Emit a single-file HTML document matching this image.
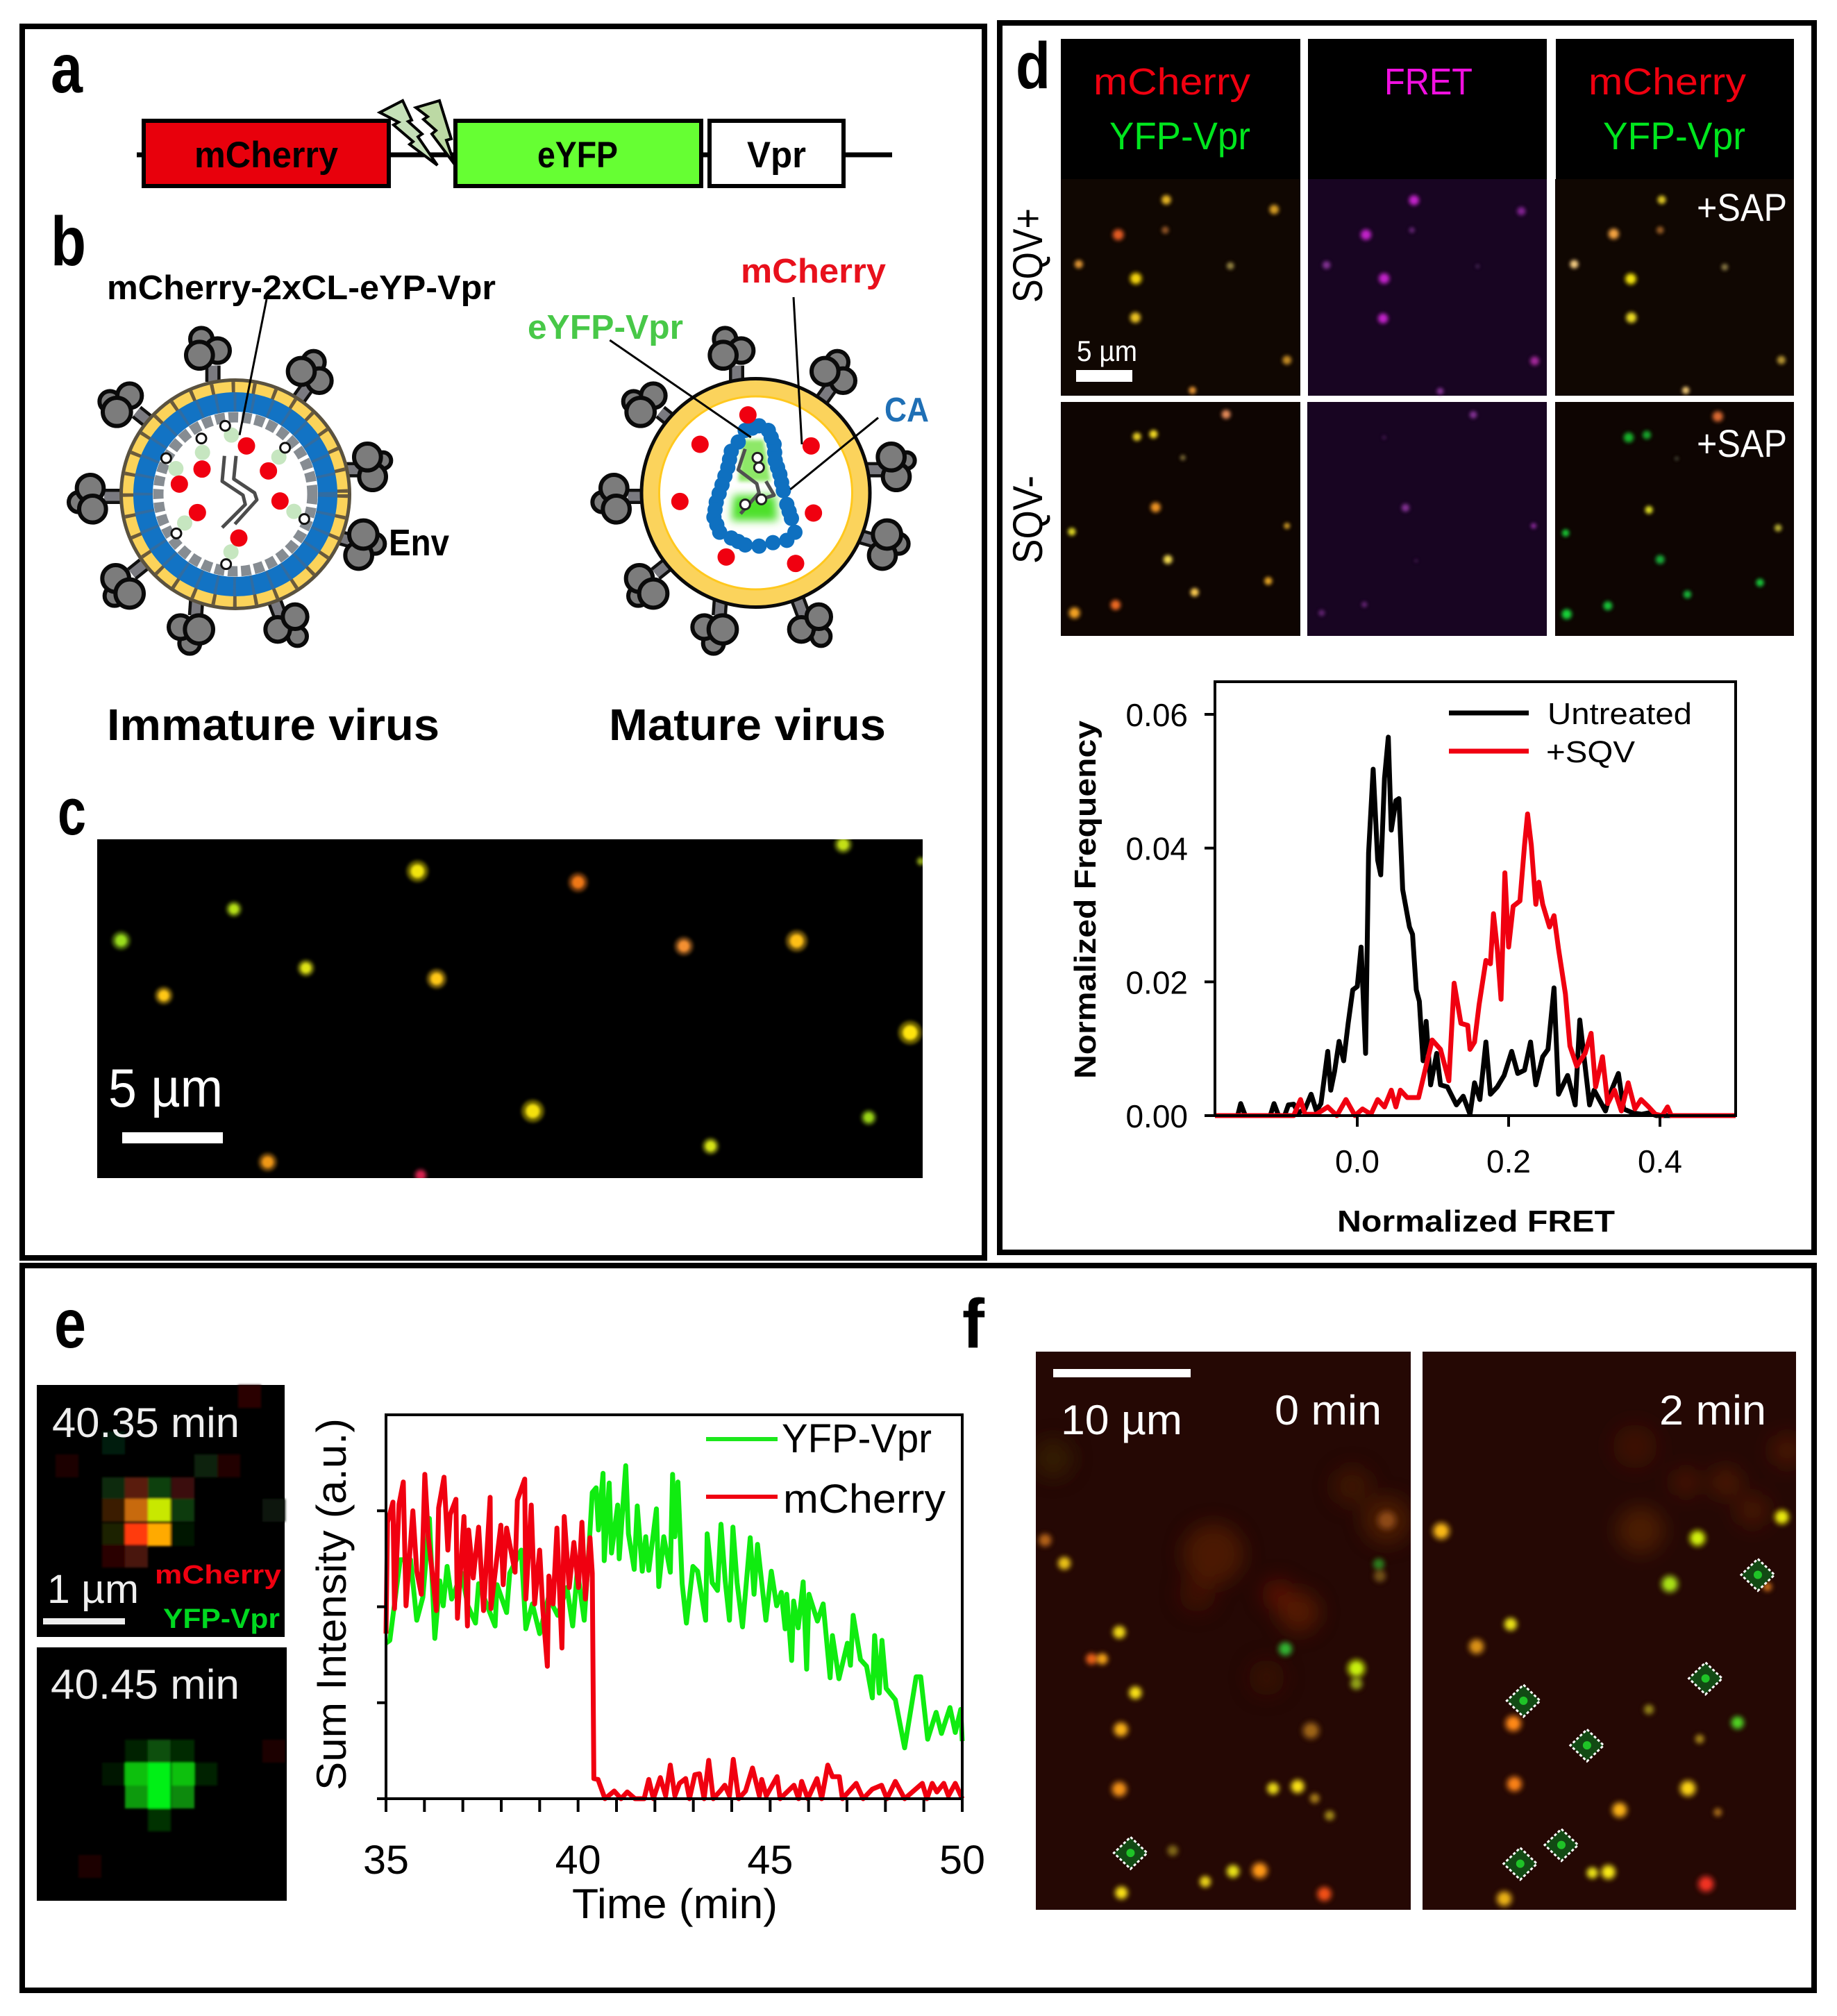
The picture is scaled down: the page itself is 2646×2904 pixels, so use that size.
<!DOCTYPE html>
<html lang="en">
<head>
<meta charset="utf-8">
<title>mCherry-2xCL-eYFP-Vpr FRET figure</title>
<style>
html,body{margin:0;padding:0;background:#fff;}
svg{display:block;}
text{font-family:"Liberation Sans",sans-serif;}
.b{font-weight:bold;}
</style>
</head>
<body>
<svg id="figure" xmlns="http://www.w3.org/2000/svg" width="2646" height="2904" viewBox="0 0 2646 2904">
<defs>
<filter id="blur1" x="-10%" y="-10%" width="120%" height="120%"><feGaussianBlur stdDeviation="1.5"/></filter>
<filter id="blur2" x="-20%" y="-20%" width="140%" height="140%"><feGaussianBlur stdDeviation="2"/></filter>
<filter id="blur3" x="-20%" y="-20%" width="140%" height="140%"><feGaussianBlur stdDeviation="3"/></filter>
<filter id="blur6" x="-40%" y="-40%" width="180%" height="180%"><feGaussianBlur stdDeviation="6"/></filter>
<filter id="blur14" x="-30%" y="-30%" width="160%" height="160%"><feGaussianBlur stdDeviation="14"/></filter>
<clipPath id="clip-c"><rect x="140" y="1209" width="1189" height="488"/></clipPath>
<clipPath id="clip-d"><rect x="1528" y="258" width="1056" height="658"/></clipPath>
<clipPath id="clip-f1"><rect x="1492" y="1947" width="540" height="804"/></clipPath>
<clipPath id="clip-f2"><rect x="2049" y="1947" width="538" height="804"/></clipPath>
</defs>
<rect width="2646" height="2904" fill="#fff"/>

<rect x="32" y="38" width="1386" height="1774" fill="none" stroke="#000" stroke-width="8"/>
<rect x="1440" y="33" width="1173" height="1771" fill="none" stroke="#000" stroke-width="8"/>
<rect x="32" y="1823" width="2581" height="1044" fill="none" stroke="#000" stroke-width="8"/>

<text class="b" x="73" y="133" font-size="100" textLength="46" lengthAdjust="spacingAndGlyphs">a</text>
<text class="b" x="73" y="382" font-size="100" textLength="51" lengthAdjust="spacingAndGlyphs">b</text>
<text class="b" x="83" y="1202" font-size="96" textLength="41" lengthAdjust="spacingAndGlyphs">c</text>
<text class="b" x="1463" y="127" font-size="95" textLength="50" lengthAdjust="spacingAndGlyphs">d</text>
<text class="b" x="78" y="1941" font-size="100" textLength="46" lengthAdjust="spacingAndGlyphs">e</text>
<text class="b" x="1386" y="1941" font-size="100" textLength="32" lengthAdjust="spacingAndGlyphs">f</text>

<g>
<line x1="197" y1="223" x2="1285" y2="223" stroke="#000" stroke-width="7"/>
<rect x="207" y="174" width="353" height="94" fill="#e8000c" stroke="#000" stroke-width="6"/>
<rect x="656" y="174" width="354" height="94" fill="#66ff33" stroke="#000" stroke-width="6"/>
<rect x="1022" y="174" width="193" height="94" fill="#fff" stroke="#000" stroke-width="6"/>
<polygon points="547,162 580,145 593,173 588,175 608,193 602,197 630,238 590,208 595,204 567,180 574,176" fill="#c5e0b8" stroke="#000" stroke-width="4"/>
<polygon points="599,155 633,145 650,200 643,202 655,237 622,193 628,188 610,172 616,168" fill="#bcd9a4" stroke="#000" stroke-width="4"/>
<text class="b" x="280" y="241" font-size="53" textLength="207" lengthAdjust="spacingAndGlyphs">mCherry</text>
<text class="b" x="774" y="241" font-size="53" textLength="116" lengthAdjust="spacingAndGlyphs">eYFP</text>
<text class="b" x="1076" y="241" font-size="53" textLength="85" lengthAdjust="spacingAndGlyphs">Vpr</text>
</g>

<g id="immature-virus"></g>
<g id="mature-virus"></g>
<text class="b" x="154" y="431" font-size="49" textLength="560" lengthAdjust="spacingAndGlyphs">mCherry-2xCL-eYP-Vpr</text>
<text class="b" x="560" y="800" font-size="54" textLength="87" lengthAdjust="spacingAndGlyphs">Env</text>
<text class="b" x="1067" y="407" font-size="49" fill="#e8101c" textLength="209" lengthAdjust="spacingAndGlyphs">mCherry</text>
<text class="b" x="760" y="488" font-size="49" fill="#48c848" textLength="224" lengthAdjust="spacingAndGlyphs">eYFP-Vpr</text>
<text class="b" x="1274" y="607" font-size="49" fill="#1f6fb5" textLength="64" lengthAdjust="spacingAndGlyphs">CA</text>
<text class="b" x="154" y="1066" font-size="64" textLength="479" lengthAdjust="spacingAndGlyphs">Immature virus</text>
<text class="b" x="877" y="1066" font-size="64" textLength="399" lengthAdjust="spacingAndGlyphs">Mature virus</text>

<rect x="140" y="1209" width="1189" height="488" fill="#000"/>
<g clip-path="url(#clip-c)"><g id="spots-c" filter="url(#blur2)"></g></g>
<rect x="176" y="1631" width="145" height="16" fill="#fff"/>
<text x="156" y="1594" font-size="78" fill="#fff" textLength="165" lengthAdjust="spacingAndGlyphs">5 µm</text>

<g>
<rect x="1528" y="56" width="345" height="202" fill="#000"/>
<rect x="1884" y="56" width="344" height="202" fill="#000"/>
<rect x="2241" y="56" width="343" height="202" fill="#000"/>
<rect x="1528" y="258" width="345" height="312" fill="#100702"/>
<rect x="1884" y="258" width="344" height="312" fill="#180522"/>
<rect x="2240" y="258" width="344" height="312" fill="#100702"/>
<rect x="1528" y="579" width="345" height="337" fill="#0e0502"/>
<rect x="1883" y="579" width="345" height="337" fill="#180522"/>
<rect x="2240" y="579" width="344" height="337" fill="#0e0502"/>
</g>
<g clip-path="url(#clip-d)"><g id="spots-d" filter="url(#blur2)"></g></g>
<text x="1575" y="136" font-size="54" fill="#f00010" textLength="226" lengthAdjust="spacingAndGlyphs">mCherry</text>
<text x="1598" y="215" font-size="56" fill="#00e61e" textLength="203" lengthAdjust="spacingAndGlyphs">YFP-Vpr</text>
<text x="1994" y="136" font-size="54" fill="#f010e0" textLength="127" lengthAdjust="spacingAndGlyphs">FRET</text>
<text x="2288" y="136" font-size="54" fill="#f00010" textLength="227" lengthAdjust="spacingAndGlyphs">mCherry</text>
<text x="2309" y="215" font-size="56" fill="#00e61e" textLength="205" lengthAdjust="spacingAndGlyphs">YFP-Vpr</text>
<text x="2444" y="318" font-size="56" fill="#fff" textLength="130" lengthAdjust="spacingAndGlyphs">+SAP</text>
<text x="2444" y="658" font-size="56" fill="#fff" textLength="130" lengthAdjust="spacingAndGlyphs">+SAP</text>
<text transform="translate(1501,436) rotate(-90)" font-size="60" textLength="136" lengthAdjust="spacingAndGlyphs">SQV+</text>
<text transform="translate(1501,812) rotate(-90)" font-size="60" textLength="127" lengthAdjust="spacingAndGlyphs">SQV-</text>
<text x="1551" y="520" font-size="42" fill="#fff" textLength="87" lengthAdjust="spacingAndGlyphs">5 µm</text>
<rect x="1550" y="533" width="81" height="17" fill="#fff"/>

<g id="chart-d">
<g id="chart-d-series"></g>
<g id="chart-d-axes"></g>
<rect x="1750" y="982" width="750" height="625" fill="none" stroke="#000" stroke-width="4"/>
<text class="b" x="1926" y="1774" font-size="44" textLength="400" lengthAdjust="spacingAndGlyphs">Normalized FRET</text>
<text class="b" transform="translate(1578,1554) rotate(-90)" font-size="44" textLength="516" lengthAdjust="spacingAndGlyphs">Normalized Frequency</text>
<line x1="2087" y1="1027" x2="2202" y2="1027" stroke="#000" stroke-width="7"/>
<line x1="2087" y1="1082" x2="2202" y2="1082" stroke="#f00010" stroke-width="7"/>
<text x="2229" y="1043" font-size="44" textLength="208" lengthAdjust="spacingAndGlyphs">Untreated</text>
<text x="2227" y="1098" font-size="44" textLength="128" lengthAdjust="spacingAndGlyphs">+SQV</text>
</g>

<rect x="53" y="1995" width="357" height="363" fill="#000"/>
<rect x="53" y="2373" width="360" height="365" fill="#000"/>
<g id="pixels-e" filter="url(#blur1)"></g>
<text x="75" y="2070" font-size="60" fill="#eee" textLength="270" lengthAdjust="spacingAndGlyphs">40.35 min</text>
<text x="73" y="2447" font-size="60" fill="#eee" textLength="272" lengthAdjust="spacingAndGlyphs">40.45 min</text>
<text x="68" y="2309" font-size="58" fill="#eee" textLength="132" lengthAdjust="spacingAndGlyphs">1 µm</text>
<rect x="62" y="2331" width="118" height="9" fill="#eee"/>
<text class="b" x="223" y="2281" font-size="38" fill="#f00010" textLength="182" lengthAdjust="spacingAndGlyphs">mCherry</text>
<text class="b" x="235" y="2345" font-size="40" fill="#00d820" textLength="168" lengthAdjust="spacingAndGlyphs">YFP-Vpr</text>

<g id="chart-e">
<g id="chart-e-series"></g>
<g id="chart-e-axes"></g>
<rect x="556" y="2038" width="830" height="553" fill="none" stroke="#000" stroke-width="4"/>
<text x="824" y="2763" font-size="60" textLength="296" lengthAdjust="spacingAndGlyphs">Time (min)</text>
<text transform="translate(498,2579) rotate(-90)" font-size="60" textLength="536" lengthAdjust="spacingAndGlyphs">Sum Intensity (a.u.)</text>
<line x1="1017" y1="2073" x2="1120" y2="2073" stroke="#1ce81c" stroke-width="6"/>
<line x1="1017" y1="2156" x2="1120" y2="2156" stroke="#f00010" stroke-width="6"/>
<text x="1126" y="2092" font-size="58" textLength="216" lengthAdjust="spacingAndGlyphs">YFP-Vpr</text>
<text x="1128" y="2179" font-size="58" textLength="234" lengthAdjust="spacingAndGlyphs">mCherry</text>
</g>

<rect x="1492" y="1947" width="540" height="804" fill="#250804"/>
<rect x="2049" y="1947" width="538" height="804" fill="#250804"/>
<g clip-path="url(#clip-f1)"><g id="blotches-f1" filter="url(#blur14)"></g><g id="spots-f1" filter="url(#blur3)"></g></g>
<g clip-path="url(#clip-f2)"><g id="blotches-f2" filter="url(#blur14)"></g><g id="spots-f2" filter="url(#blur3)"></g></g>
<g id="diamonds-f"></g>
<rect x="1517" y="1972" width="198" height="12" fill="#fff"/>
<text x="1528" y="2066" font-size="60" fill="#fff" textLength="175" lengthAdjust="spacingAndGlyphs">10 µm</text>
<text x="1836" y="2052" font-size="60" fill="#fff" textLength="154" lengthAdjust="spacingAndGlyphs">0 min</text>
<text x="2390" y="2052" font-size="60" fill="#fff" textLength="154" lengthAdjust="spacingAndGlyphs">2 min</text>
</svg>

<script>
/* ---------- Chart d: normalized FRET histogram ---------- */
const untreatedFret = [-0.188,-0.158,-0.154,-0.148,-0.115,-0.110,-0.104,-0.096,-0.091,-0.084,-0.078,-0.069,-0.061,-0.054,-0.048,-0.039,-0.035,-0.030,-0.024,-0.018,-0.012,-0.006,0,0.005,0.011,0.015,0.021,0.027,0.031,0.036,0.041,0.045,0.051,0.055,0.060,0.069,0.073,0.078,0.082,0.087,0.091,0.097,0.105,0.110,0.119,0.131,0.140,0.149,0.155,0.162,0.170,0.176,0.185,0.194,0.204,0.212,0.221,0.229,0.236,0.245,0.252,0.260,0.266,0.278,0.288,0.294,0.307,0.313,0.328,0.336,0.345,0.352,0.364,0.376,0.385,0.395,0.5];
const untreatedFreq = [0,0,0.0018,0,0,0.0018,0,0,0.0016,0.0017,0.0004,0.001,0.0032,0.0007,0.0018,0.0096,0.0038,0.0066,0.0111,0.0082,0.0138,0.0188,0.0193,0.0252,0.0093,0.0393,0.0518,0.0382,0.036,0.0504,0.0566,0.0427,0.0471,0.0474,0.0338,0.0282,0.0271,0.0188,0.0171,0.0082,0.0141,0.0046,0.0093,0.0046,0.0043,0.0016,0.0029,0.0002,0.0049,0.0024,0.011,0.0032,0.0043,0.006,0.0096,0.0063,0.0068,0.011,0.0046,0.0088,0.0099,0.0191,0.0032,0.006,0.0016,0.0143,0.0016,0.0038,0.0007,0.0038,0.0063,0.001,0.0004,0.0002,0.0004,0,0];
const sqvFret = [-0.188,-0.084,-0.075,-0.069,-0.054,-0.039,-0.027,-0.015,-0.003,0.007,0.018,0.027,0.036,0.045,0.051,0.057,0.066,0.081,0.088,0.099,0.110,0.121,0.128,0.137,0.146,0.149,0.155,0.161,0.170,0.176,0.180,0.185,0.190,0.195,0.200,0.206,0.215,0.221,0.225,0.230,0.236,0.240,0.245,0.254,0.260,0.266,0.275,0.281,0.290,0.301,0.309,0.315,0.324,0.331,0.340,0.349,0.358,0.367,0.375,0.385,0.394,0.403,0.410,0.415,0.5];
const sqvFreq = [0,0,0.0024,0.0002,0.0002,0.0013,0,0.0024,0,0.001,0.0002,0.0024,0.0013,0.0038,0.0013,0.0038,0.0027,0.0027,0.006,0.0113,0.0099,0.0052,0.0198,0.0138,0.0135,0.0099,0.011,0.0166,0.0232,0.0227,0.0302,0.0249,0.0174,0.0363,0.0252,0.0313,0.0321,0.0404,0.0451,0.0404,0.0316,0.0349,0.0316,0.0282,0.0299,0.0249,0.0182,0.0104,0.0074,0.0093,0.0123,0.0043,0.0088,0.0018,0.0038,0.0007,0.0049,0.001,0.0024,0.0013,0.0002,0,0.0013,0,0];
const fretTickValues = [0.0,0.2,0.4];
const fretTickLabels = ["0.0","0.2","0.4"];
const freqTickValues = [0,0.02,0.04,0.06];
const freqTickLabels = ["0.00","0.02","0.04","0.06"];

/* ---------- Chart e: sum intensity vs time ---------- */
const yfpTime = [35.00,35.10,35.27,35.37,35.64,35.80,35.96,36.13,36.27,36.40,36.49,36.59,36.71,36.97,37.13,37.33,37.41,37.84,37.89,38.14,38.22,38.52,38.64,38.81,39.00,39.23,39.47,39.71,39.86,39.98,40.16,40.28,
40.37,40.47,40.53,40.65,40.68,40.81,40.87,41.03,41.07,41.24,
41.31,41.46,41.54,41.67,41.76,41.84,42.04,42.10,42.23,42.40,
42.46,42.52,42.60,42.71,42.82,42.99,43.11,43.32,43.36,43.49,
43.63,43.72,43.83,43.94,44.03,44.14,44.28,44.48,44.58,44.67,
44.89,45.03,45.17,45.29,45.39,45.43,45.56,45.61,45.73,45.86,
45.95,46.01,46.23,46.38,46.56,46.62,46.79,47.01,47.09,47.16,
47.35,47.51,47.66,47.72,47.84,47.91,48.02,48.26,48.50,48.80,
48.92,49.10,49.32,49.46,49.68,49.82,49.96,50.00];
const yfpIntensity = [1.62,1.65,2.18,2.49,2.49,1.86,2.10,2.92,1.67,2.27,2.01,2.42,2.08,2.35,2.01,1.83,2.24,1.80,2.23,1.94,2.35,2.59,1.77,2.03,1.72,2.10,1.91,2.20,1.80,2.38,1.86,2.59,
3.19,3.24,2.80,3.39,2.48,3.29,2.56,3.06,2.50,3.47,
2.76,2.39,3.05,2.37,2.73,2.38,3.02,2.21,2.73,2.36,
3.38,2.73,3.30,2.24,1.83,2.42,2.37,1.86,2.76,2.25,
2.17,2.86,2.27,1.86,2.83,2.25,1.79,2.72,2.13,2.65,
1.86,2.37,2.01,2.15,1.77,2.13,1.44,2.06,1.78,2.26,
1.35,2.13,1.85,2.03,1.26,1.70,1.25,1.62,1.39,1.91,
1.45,1.38,1.05,1.70,1.10,1.65,1.15,1.03,0.53,1.27,
1.27,0.62,0.90,0.68,0.95,0.69,0.93,0.60];
const mcherryTime = [35.00,35.04,35.18,35.22,35.34,35.45,35.52,35.70,35.80,35.92,
36.01,36.10,36.31,36.37,36.51,36.61,36.67,36.82,36.86,37.03,
37.12,37.15,37.27,37.41,37.54,37.71,37.73,37.84,37.99,38.05,
38.14,38.36,38.42,38.61,38.64,38.78,38.87,39.00,39.08,39.20,
39.24,39.35,39.45,39.58,39.64,39.77,39.89,40.01,40.10,40.19,
40.31,40.37,
40.41,40.52,40.70,40.94,41.12,41.28,41.48,41.72,41.84,41.96,42.14,42.28,42.40,42.52,42.64,42.80,42.90,43.04,43.16,43.28,43.40,43.52,43.70,43.82,43.94,44.04,44.18,44.36,44.54,44.72,44.78,44.90,45.18,45.26,45.62,45.74,45.82,45.98,46.22,46.34,46.50,46.62,46.80,46.88,47.24,47.42,47.66,47.90,48.04,48.26,48.50,48.96,49.08,49.22,49.34,49.52,49.64,49.82,50.00];
const mcherryIntensity = [1.72,2.88,3.09,1.98,3.07,3.30,2.01,3.00,2.37,2.13,
3.38,2.73,1.96,3.03,3.35,2.59,2.96,3.12,1.88,2.94,
1.80,2.80,2.30,2.83,1.96,3.14,1.98,2.35,2.85,2.23,
2.82,2.36,3.11,3.33,2.08,3.06,2.03,2.59,1.98,1.38,
2.32,2.03,2.82,1.57,2.94,2.20,2.67,2.20,2.88,2.08,
2.72,2.35,
0.21,0.20,0,0.08,0,0.07,0,0,0.20,0,0.22,0.03,0.35,0.03,0.16,0.21,0,0.25,0.26,0,0.40,0,0.08,0.14,0.03,0.41,0,0.08,0.32,0.03,0.20,0.03,0.23,0,0.14,0,0.18,0,0.21,0,0.35,0.23,0.23,0,0.16,0,0.10,0.14,0,0.18,0,0.16,0,0.16,0.07,0.16,0.03,0.16,0];
const timeTickValues = [35,36,37,38,39,40,41,42,43,44,45,46,47,48,49,50];
const timeTickLabelValues = [35,40,45,50];
const intensityTickValues = [0,1,2,3];

/* ---------- Micrograph spots, in image crop coordinates ---------- */
const Y="#f2e410",M="#c020c8";
const spotsC = [[655,270,Y,1.1],[907,298,"#f07818",1],[367,365,"#b6e012",.8],[190,444,"#9ade1a",.95],[480,513,"#e0e414",.85],[685,540,"#ffc818",1],[257,582,"#ffc818",.9],[1073,458,"#f49030",.95],[1250,445,"#ffc018",1.1],[1323,203,"#c4e014",.9],[1445,245,"#90a814",.5],[1428,675,"#ffe410",1.2],[836,872,"#f4e010",1.15],[1363,888,"#9ad418",.8],[1115,960,"#d6e414",.85],[420,1000,"#f09818",.95],[660,1033,"#d82050",.7]];
const spotsDMerge = [[312,475,"#e0b020",.9],[514,498,"#d09820",.9],[222,558,"#e05a20",1.05],[310,547,"#885020",.7],[148,628,"#d89030",.8],[432,632,"#908040",.7],[255,662,"#f0d010",1.1],[254,755,"#e8c020",1],[538,856,"#c08820",.85],[361,928,"#e09030",.7],[424,985,"#e08858",.85],[257,1038,"#e0c820",.8],[288,1032,"#f0d820",.8],[343,1088,"#706030",.55],[292,1206,"#e89020",.95],[135,1264,"#d8d020",.75],[538,1250,"#c09020",.6],[315,1330,"#f0d850",.85],[503,1381,"#e0a020",.75],[365,1408,"#f8c850",.8],[140,1457,"#f0a020",1.05],[217,1438,"#e86820",.95]];
const spotsDFret = [[776,476,M,.95],[977,502,"#802090",.8],[686,558,M,1],[772,547,"#602070",.55],[612,630,"#803090",.75],[895,633,"#402050",.4],[720,662,M,1],[718,757,M,.95],[1002,858,"#a02898",.85],[825,930,"#803090",.65],[887,986,"#803090",.7],[720,1040,"#3c1848",.4],[760,1207,"#803090",.75],[1000,1250,"#802890",.55],[780,1333,"#3c1848",.35],[683,1437,"#602070",.55],[603,1457,"#602070",.6]];
const spotsDSap = [[1240,475,"#d8c020",.8],[1150,556,"#f0a040",1],[1237,547,"#905820",.7],[1076,628,"#f0c880",.8],[1358,635,"#807040",.65],[1182,663,"#f0e010",1.05],[1183,755,"#e8d820",1],[1464,856,"#b09030",.8],[1285,928,"#e8c070",.7],[1345,990,"#d86830",1],[1178,1040,"#18b02a",.95],[1212,1034,"#18a02a",.8],[1268,1090,"#404030",.4],[1216,1212,"#d8d820",.75],[1458,1255,"#b0a830",.7],[1060,1267,"#18c030",.7],[1237,1330,"#18a838",.85],[1424,1385,"#18c038",.75],[1288,1413,"#18b038",.75],[1139,1440,"#18c038",.85],[1062,1460,"#18d038",.95]];
const spotsF1 = [[85,555,"#b06018",.9],[121,613,"#e8c018",.9],[224,786,"#f0d818",.9],[172,853,"#e86018",.8],[192,853,"#f0a018",.8],[254,938,"#f8e018",.9],[227,1030,"#f8b018",1],[224,1180,"#f09018",1.05],[583,1033,"#9c6418",1.15],[535,828,"#30b030",.95],[668,877,"#c8f010",1.2],[668,915,"#90a018",.85],[512,1178,"#e8d818",.85],[558,1173,"#f8e018",.95],[590,1203,"#a07818",.7],[618,1246,"#a08818",.7],[324,1334,"#806818",.75],[385,1412,"#e8d018",.8],[437,1386,"#e8e018",.9],[487,1384,"#ff9818",1.1],[228,1440,"#f8e018",.9],[608,1443,"#f05018",1],[725,505,"#8c4818",1.25],[710,615,"#2c7c1c",.8],[712,645,"#705018",.85]];
const spotsF2 = [[827,532,"#f8b818",1.15],[1307,550,"#d0f010",1.1],[1465,497,"#e8e810",1],[1255,665,"#a8e018",1.15],[957,766,"#e8e018",.9],[893,822,"#d89018",1.05],[962,1015,"#ff8818",1.1],[1216,980,"#908018",.7],[1382,1013,"#50d020",.9],[1311,1054,"#a08018",.65],[964,1167,"#f88018",1.05],[1289,1178,"#f8d018",1.1],[1161,1232,"#f8b018",1.05],[1345,1238,"#a06818",.6],[1110,1390,"#e8e018",.8],[1140,1388,"#f8e818",1],[1323,1418,"#f03020",1.1],[945,1455,"#e8b018",1.05],[1438,672,"#c06818",.65]];
const hazeF1 = [[400,590,44,"#7a2c08"],[560,735,30,"#8a2a08"],[520,690,22,"#8a1c08"],[660,420,28,"#5a2808"],[370,690,26,"#5c1c08"],[725,505,34,"#7a3808"],[100,350,28,"#443008"],[500,900,26,"#4c1a08"]];
const hazeF2 = [[1200,530,34,"#7a3408"],[1285,410,20,"#702408"],[1360,410,22,"#7a2c08"],[1410,480,24,"#6a2808"],[1475,330,24,"#702408"],[1190,320,32,"#581c08"]];
const diamondsF = [[245,1340],[1420,642],[1322,902],[981,958],[1100,1070],[1052,1320],[975,1367]];

/* ---------- Pixelated panel e cells: [x, y, colour] on a 33 px grid ---------- */
const cellsBefore = [[147,2128,"#0c2c0c"],[180,2128,"#5a1a08"],[213,2128,"#0c400c"],[247,2128,"#3a0c08"],[147,2159,"#3a1a04"],[180,2159,"#c86a10"],[213,2159,"#c8e800"],[247,2159,"#0a3a0a"],[147,2194,"#1e2404"],[180,2194,"#ff3a10"],[213,2194,"#ffaa00"],[247,2194,"#041404"],[147,2225,"#2a0404"],[180,2225,"#4a1808"],[343,1995,"#2a0404"],[80,2095,"#1c0406"],[280,2095,"#0a2408"],[313,2095,"#240406"],[147,2062,"#041a08"],[378,2159,"#081808"]];
const cellsAfter = [[180,2506,"#042004"],[213,2506,"#0a500a"],[247,2506,"#042a04"],[147,2539,"#041804"],[180,2539,"#10c010"],[213,2539,"#00f014"],[247,2539,"#10c010"],[280,2539,"#042004"],[180,2572,"#089a10"],[213,2572,"#00f014"],[247,2572,"#088a10"],[213,2605,"#063006"],[378,2506,"#1c0404"],[113,2672,"#1c0404"]];

/* ---------- Virus schematic geometry, in 3x crop coordinates ---------- */
/* each head: stem [x1,y1,x2,y2] then back-to-front lobes [x,y,r] */
const envStems = [[650,230,650,300],[1060,320,1010,390],[320,430,370,470],[1280,680,1205,680],[180,795,250,795],[1240,985,1170,965],[300,1130,350,1090],[575,1310,580,1240],[940,1310,910,1230]];
const envLobes = [
 [[600,115,45],[670,165,50],[592,185,55]],
 [[1085,215,45],[1110,295,50],[1032,255,55]],
 [[205,385,42],[290,360,50],[235,430,58]],
 [[1385,640,32],[1340,710,55],[1318,625,55]],
 [[70,820,40],[120,760,55],[130,850,55]],
 [[1350,1000,40],[1280,1050,55],[1300,960,58]],
 [[225,1225,40],[230,1150,55],[290,1215,58]],
 [[550,1430,42],[510,1360,48],[590,1370,58]],
 [[1015,1400,38],[930,1370,50],[1005,1315,50]]
];
const redImmature = [[795,577],[603,677],[890,685],[505,742],[940,815],[583,865],[762,975]];
const paleImmature = [[605,605],[935,625],[490,675],[1000,860],[528,910],[728,1035],[730,530]];
const whiteImmature = [[600,545],[703,490],[448,630],[962,585],[1045,893],[492,955],[707,1088]];
const strandA = [[700,620],[690,730],[780,790],[790,830],[690,930]];
const strandB = [[750,620],[740,720],[830,780],[840,810],[745,915]];
const redMature = [[712,443],[505,570],[985,577],[418,817],[995,867],[618,1057],[918,1085]];
const coneOutline = [[700,510],[670,560],[640,600],[625,670],[600,745],[575,820],[565,885],[590,950],[640,975],[700,1005],[760,1010],[820,995],[880,985],[915,950],[900,890],[880,830],[865,770],[850,700],[830,640],[825,570],[800,510],[760,490],[700,510]];
const whiteMature = [[753,628],[760,670],[770,808],[700,830]];
const strandM = [[700,590],[670,680],[750,740],[760,780],[680,870]];
const strandM2 = [[790,730],[825,790],[760,810]];

const NS = "http://www.w3.org/2000/svg";
function mk(parentId, tag, attrs, content){
  const el = document.createElementNS(NS, tag);
  for (const k in attrs) el.setAttribute(k, attrs[k]);
  if (content !== undefined) el.textContent = content;
  document.getElementById(parentId).appendChild(el);
  return el;
}
const vI = (x,y)=>[90+x/3, 450+y/3];
const vM = (x,y)=>[840+x/3, 450+y/3];
const zC = (x,y)=>[x*0.918, 1100+y*0.574];
const zD = (x,y)=>[1440+x*0.769, y*0.606];
const zF = (x,y)=>[1440+x*0.769, 1900+y*0.574];

/* ---------- Axis functions ---------- */
const xFret = v => 1955 + v*1090;
const yFreq = v => 1607 - v*(578/0.06);
const xTime = t => 556 + (t-35)*(830/15);
const yInt  = v => 2591 - v*138.25;
const pts = (xs,ys,fx,fy)=>xs.map((v,i)=>fx(v).toFixed(1)+","+fy(ys[i]).toFixed(1)).join(" ");

/* ---------- Chart d draw ---------- */
const lineUntreated = mk("chart-d-series","polyline",{points:pts(untreatedFret,untreatedFreq,xFret,yFreq),fill:"none",stroke:"#000","stroke-width":7,"stroke-linejoin":"round"});


const lineSqv = mk("chart-d-series","polyline",{points:pts(sqvFret,sqvFreq,xFret,yFreq),fill:"none",stroke:"#f00010","stroke-width":7,"stroke-linejoin":"round"});


fretTickValues.forEach((v,i)=>{
  const t = mk("chart-d-axes","line",{x1:xFret(v),x2:xFret(v),y1:1607,y2:1623,stroke:"#000","stroke-width":4});
  
  
  const l = mk("chart-d-axes","text",{x:xFret(v),y:1689,"font-size":46,"text-anchor":"middle"},fretTickLabels[i]);
  
  
});
freqTickValues.forEach((v,i)=>{
  const t = mk("chart-d-axes","line",{x1:1735,x2:1750,y1:yFreq(v),y2:yFreq(v),stroke:"#000","stroke-width":4});
  
  
  const l = mk("chart-d-axes","text",{x:1711,y:yFreq(v)+17,"font-size":46,"text-anchor":"end"},freqTickLabels[i]);
  
  
});

/* ---------- Chart e draw ---------- */
const lineYfp = mk("chart-e-series","polyline",{points:pts(yfpTime,yfpIntensity,xTime,yInt),fill:"none",stroke:"#10ec10","stroke-width":7,"stroke-linejoin":"round"});


const lineMch = mk("chart-e-series","polyline",{points:pts(mcherryTime,mcherryIntensity,xTime,yInt),fill:"none",stroke:"#f00010","stroke-width":7,"stroke-linejoin":"round"});


timeTickValues.forEach(v=>{
  const t = mk("chart-e-axes","line",{x1:xTime(v),x2:xTime(v),y1:2591,y2:2610,stroke:"#000","stroke-width":4});
  
  
});
timeTickLabelValues.forEach(v=>{
  const l = mk("chart-e-axes","text",{x:xTime(v),y:2699,"font-size":58,"text-anchor":"middle",textLength:66,lengthAdjust:"spacingAndGlyphs"},String(v));
  
  
});
intensityTickValues.forEach(v=>{
  const t = mk("chart-e-axes","line",{x1:543,x2:556,y1:yInt(v),y2:yInt(v),stroke:"#000","stroke-width":4});
  
  
});

/* ---------- Panel e cells ---------- */
cellsBefore.concat(cellsAfter).forEach(c=>{
  const r = mk("pixels-e","rect",{x:c[0],y:c[1],width:33,height:33,fill:c[2]});
  
  
});

/* ---------- Spots ---------- */
function drawSpots(parentId, list, conv, base){
  list.forEach(s=>{
    const p = conv(s[0],s[1]);
    const halo = mk(parentId,"circle",{cx:p[0],cy:p[1],r:base*1.6*s[3],fill:s[2],opacity:0.4});
    
    
    const core = mk(parentId,"circle",{cx:p[0],cy:p[1],r:base*s[3],fill:s[2]});
    
    
  });
}
drawSpots("spots-c",spotsC,zC,9);
drawSpots("spots-d",spotsDMerge,zD,6);
drawSpots("spots-d",spotsDFret,zD,6);
drawSpots("spots-d",spotsDSap,zD,6);
drawSpots("spots-f1",spotsF1,zF,8);
drawSpots("spots-f2",spotsF2,zF,8);
[["blotches-f1",hazeF1],["blotches-f2",hazeF2]].forEach(h=>{
  h[1].forEach(b=>{
    const p = zF(b[0],b[1]);
    const c = mk(h[0],"circle",{cx:p[0],cy:p[1],r:b[2],fill:b[3],opacity:0.45});
    
    
  });
});
diamondsF.forEach(d=>{
  const p = zF(d[0],d[1]);
  const x=p[0], y=p[1];
  const poly = mk("diamonds-f","polygon",{points:`${x},${y-23} ${x+24},${y} ${x},${y+23} ${x-24},${y}`,fill:"#124a14",stroke:"#fff","stroke-width":3,"stroke-dasharray":"4 3"});
  
  
  const c = mk("diamonds-f","circle",{cx:x,cy:y,r:6,fill:"#22d82a",opacity:0.85});
  
  
});

/* ---------- Virus schematics ---------- */
function drawEnv(parentId, conv, dx){
  envStems.forEach((s,i)=>{
    const a=conv(s[0]+dx,s[1]), b=conv(s[2]+dx,s[3]);
    const so = mk(parentId,"line",{x1:a[0],y1:a[1],x2:b[0],y2:b[1],stroke:"#111","stroke-width":22});
    
    
    const st = mk(parentId,"line",{x1:a[0],y1:a[1],x2:b[0],y2:b[1],stroke:"#7a7a80","stroke-width":13});
    
    
    envLobes[i].forEach(l=>{
      const p=conv(l[0]+dx,l[1]);
      const c = mk(parentId,"circle",{cx:p[0],cy:p[1],r:l[2]/3+1,fill:"#7c7c7c",stroke:"#0a0a0a","stroke-width":6});
      
      
    });
  });
}
function dots(parentId,list,conv,r,fill,stroke,name){
  list.forEach(d=>{
    const p = conv(d[0],d[1]);
    const c = mk(parentId,"circle",{cx:p[0],cy:p[1],r:r,fill:fill,stroke:stroke,"stroke-width":stroke==="none"?0:3});
    
    
  });
}
function ringCircle(parentId,cx,cy,r,attrs,name){
  const c = mk(parentId,"circle",Object.assign({cx:cx,cy:cy,r:r,fill:"none"},attrs));
  
  
}
function leader(parentId,a,b,name){
  const l = mk(parentId,"line",{x1:a[0],y1:a[1],x2:b[0],y2:b[1],stroke:"#000","stroke-width":3});
  
  
}
function squiggle(parentId,list,conv,name,w,col){
  const d = list.map(q=>conv(q[0],q[1]).map(n=>n.toFixed(1)).join(",")).join(" ");
  const l = mk(parentId,"polyline",{points:d,fill:"none",stroke:col,"stroke-width":w,"stroke-linejoin":"round"});
  
  
}
/* immature */
const ic=[339,712];
drawEnv("immature-virus",vI,0);
ringCircle("immature-virus",ic[0],ic[1],164,{stroke:"#5a5240","stroke-width":6,fill:"#fff"},"membrane-outline");
ringCircle("immature-virus",ic[0],ic[1],154,{stroke:"#fbd35a","stroke-width":16},"lipid-membrane-ring");
ringCircle("immature-virus",ic[0],ic[1],154,{stroke:"#6a5a3c","stroke-width":16,"stroke-dasharray":"5 25"},"membrane-radial-ticks");
ringCircle("immature-virus",ic[0],ic[1],133,{stroke:"#1273c4","stroke-width":28},"gag-ca-ring");
ringCircle("immature-virus",ic[0],ic[1],133,{stroke:"#45688c","stroke-width":28,"stroke-dasharray":"4 22",opacity:0.6},"gag-ca-radial-lines");
ringCircle("immature-virus",ic[0],ic[1],111,{stroke:"#868c92","stroke-width":15,"stroke-dasharray":"14 5"},"gag-gray-ring");
dots("immature-virus",paleImmature,vI,11,"#c6e6c0","none","pale-eyfp-dot");
dots("immature-virus",redImmature,vI,12.5,"#f00010","none","mcherry-dot");
dots("immature-virus",whiteImmature,vI,7,"#fff","#111","cleavage-site-dot");
squiggle("immature-virus",strandA,vI,"genome-strand-1",5,"#4c4c4c");
squiggle("immature-virus",strandB,vI,"genome-strand-2",5,"#4c4c4c");
leader("immature-virus",[384,431],vI(765,530),"construct-leader-line");
/* mature */
const mc=[1088.5,710];
drawEnv("mature-virus",vM,13);
ringCircle("mature-virus",mc[0],mc[1],164,{stroke:"#0a0a0a","stroke-width":6,fill:"#fff"},"mature-membrane-outline");
ringCircle("mature-virus",mc[0],mc[1],150,{stroke:"#fbd35c","stroke-width":24},"mature-membrane-ring");
ringCircle("mature-virus",mc[0],mc[1],139,{stroke:"#ffc81e","stroke-width":3},"mature-membrane-inner-edge");
const greenTop = mk("mature-virus","polygon",{points:[[690,550],[780,550],[810,730],[670,730]].map(q=>vM(q[0],q[1]).join(",")).join(" "),fill:"#8ee868",filter:"url(#blur3)"});


const greenBottom = mk("mature-virus","polygon",{points:[[650,790],[830,790],[840,900],[640,900]].map(q=>vM(q[0],q[1]).join(",")).join(" "),fill:"#4ee02c",filter:"url(#blur6)"});


for(let i=0;i<coneOutline.length-1;i++){
  const a=vM(coneOutline[i][0],coneOutline[i][1]), b=vM(coneOutline[i+1][0],coneOutline[i+1][1]);
  const n=Math.max(1,Math.round(Math.hypot(b[0]-a[0],b[1]-a[1])/14));
  for(let j=0;j<n;j++){
    const c = mk("mature-virus","circle",{cx:a[0]+(b[0]-a[0])*j/n,cy:a[1]+(b[1]-a[1])*j/n,r:11,fill:"#0f70c0"});
    
    
  }
}
squiggle("mature-virus",strandM,vM,"mature-genome-strand",5,"#505050");
squiggle("mature-virus",strandM2,vM,"mature-genome-strand-2",5,"#505050");
dots("mature-virus",redMature,vM,12.5,"#f00010","none","mcherry-dot");
dots("mature-virus",whiteMature,vM,7,"#fff","#222","cleavage-site-dot");
leader("mature-virus",vM(115,120),vM(725,540),"eyfp-leader-line");
leader("mature-virus",[1143,428],vM(945,570),"mcherry-leader-line");
leader("mature-virus",vM(1275,455),vM(895,765),"ca-leader-line");
</script>
</body>
</html>
